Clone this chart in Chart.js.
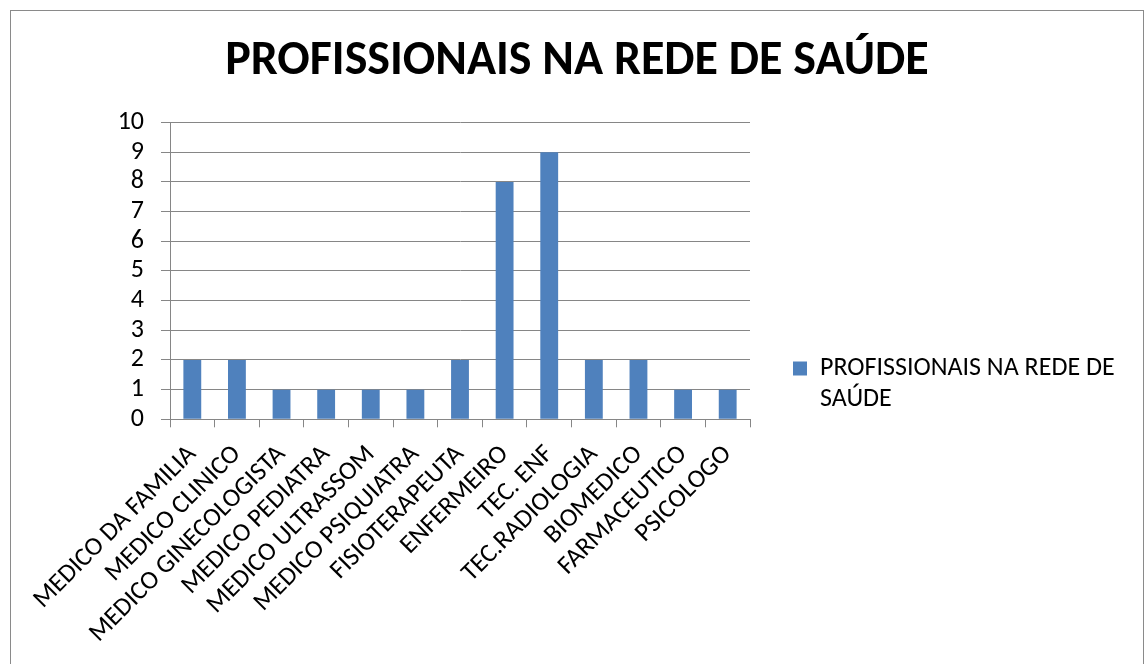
<!DOCTYPE html>
<html>
<head>
<meta charset="utf-8">
<script src="https://cdn.jsdelivr.net/npm/chart.js@4"></script>
<style>
  html, body { margin: 0; padding: 0; background: #fff; }
  #wrap { width: 1146px; height: 664px; }
</style>
</head>
<body>
<div id="wrap"><canvas id="c" width="1146" height="664"></canvas></div>
<script>
const categories = ["MEDICO DA FAMILIA", "MEDICO CLINICO", "MEDICO GINECOLOGISTA", "MEDICO PEDIATRA", "MEDICO ULTRASSOM", "MEDICO PSIQUIATRA", "FISIOTERAPEUTA", "ENFERMEIRO", "TEC. ENF", "TEC.RADIOLOGIA", "BIOMEDICO", "FARMACEUTICO", "PSICOLOGO"];
const values = [2, 2, 1, 1, 1, 1, 2, 8, 9, 2, 2, 1, 1];
const seriesName = "PROFISSIONAIS NA REDE DE SAÚDE";
const legendLines = ["PROFISSIONAIS NA REDE DE", "SAÚDE"];
const titleText = "PROFISSIONAIS NA REDE DE SAÚDE";
const yTicks = [0, 1, 2, 3, 4, 5, 6, 7, 8, 9, 10];

const FONT = "Carlito, Lato, 'Liberation Sans', sans-serif";
const GRID = "#868686";

const frame = {
  id: 'frame',
  beforeLayout(chart) {
    const lg = chart.legend;
    if (lg && !lg._fixedWidth) {
      const orig = lg.fit;
      lg.fit = function () { orig.call(this); this.width = 396; };
      lg._fixedWidth = true;
    }
  },
  beforeDraw(chart) {
    const ctx = chart.ctx;
    ctx.save();
    ctx.fillStyle = '#ffffff';
    ctx.fillRect(0, 0, chart.width, chart.height);
    ctx.strokeStyle = '#8a8a8a';
    ctx.lineWidth = 1;
    ctx.strokeRect(10.5, 10.5, 1133, 700);
    ctx.restore();
  }
};

new Chart(document.getElementById('c'), {
  type: 'bar',
  data: {
    labels: categories,
    datasets: [{
      label: seriesName,
      data: values,
      backgroundColor: '#4F81BD',
      borderWidth: 0,
      categoryPercentage: 0.4,
      barPercentage: 1.0
    }]
  },
  options: {
    responsive: false,
    animation: false,
    devicePixelRatio: 1,
    layout: { padding: { left: 8, right: 0, top: 0, bottom: 0 } },
    plugins: {
      title: {
        display: true,
        text: titleText,
        color: '#000',
        font: { family: FONT, size: 48, weight: 'bold' },
        padding: { top: 33, bottom: 32 }
      },
      legend: {
        display: true,
        position: 'right',
        maxWidth: 600,
        title: {
          display: true,
          text: ' ',
          font: { family: FONT, size: 12 },
          padding: { top: 95, bottom: 0 }
        },
        labels: {
          color: '#000',
          font: { family: FONT, size: 26, lineHeight: 1.2 },
          boxWidth: 14,
          boxHeight: 14,
          padding: 43,
          generateLabels(chart) {
            return [{
              text: legendLines,
              fillStyle: '#4F81BD',
              strokeStyle: '#4F81BD',
              fontColor: '#000000',
              lineWidth: 0,
              hidden: false,
              datasetIndex: 0
            }];
          }
        }
      },
      tooltip: { enabled: false }
    },
    scales: {
      x: {
        offset: true,
        afterFit(scale) { scale.height = 244.7; },
        grid: {
          offset: true,
          drawOnChartArea: false,
          drawTicks: true,
          tickLength: 8,
          color: GRID,
          lineWidth: 1
        },
        border: { display: true, color: GRID, width: 1 },
        ticks: {
          color: '#000',
          font: { family: FONT, size: 26 },
          maxRotation: 45,
          minRotation: 45,
          autoSkip: false,
          padding: 12
        }
      },
      y: {
        min: 0,
        max: 10,
        afterFit(scale) { scale.width = 162; },
        afterBuildTicks(scale) { scale.ticks = yTicks.map(v => ({ value: v })); },
        grid: {
          color: GRID,
          lineWidth: 1,
          drawTicks: true,
          tickLength: 9
        },
        border: { display: true, color: GRID, width: 1 },
        ticks: {
          color: '#000',
          font: { family: FONT, size: 26 },
          padding: 17,
          autoSkip: false,
          stepSize: 1
        }
      }
    }
  },
  plugins: [frame]
});
</script>
</body>
</html>
